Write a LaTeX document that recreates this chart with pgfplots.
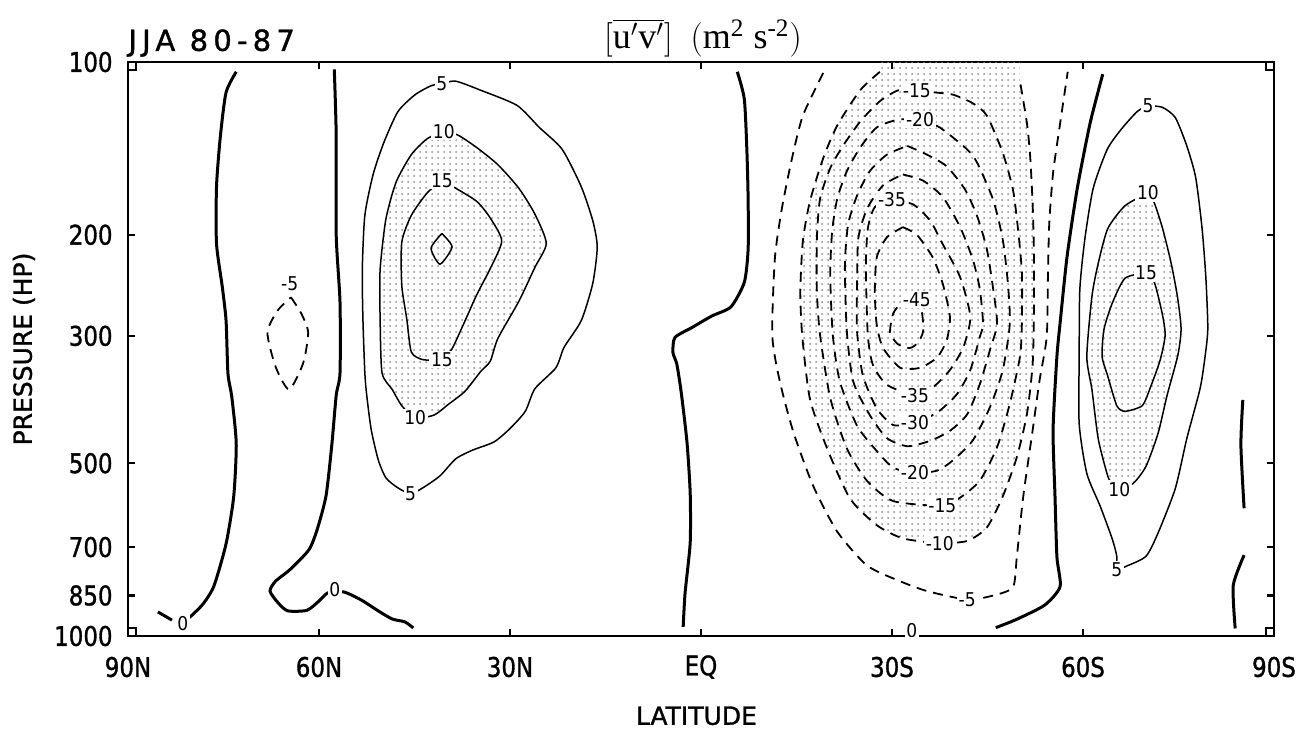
\documentclass[border=0pt]{standalone}
\usepackage{fontspec}
\usepackage{pgfplots}
\pgfplotsset{compat=1.18}
\usetikzlibrary{patterns}
\setmainfont{DejaVu Sans}
\newfontfamily\tickfont{DejaVu Sans}[FakeStretch=0.85, FakeBold=1.2]
\newfontfamily\axlabfont{DejaVu Sans}[FakeBold=1.2]
\newfontfamily\clabfont{DejaVu Sans}[FakeStretch=0.9]
\newfontfamily\jjafont{DejaVu Sans}[LetterSpace=18, FakeBold=1.2]
\newfontfamily\titleserif{Liberation Serif}
\tikzset{lab/.style={fill=white, inner sep=0.8pt, font=\clabfont\fontsize{9.5}{9.5}\selectfont}}
\pgfplotsset{
 pos/.style={black, line width=0.75pt, smooth, tension=0.4, no marks},
 neg/.style={black, line width=0.9pt, dash pattern=on 5pt off 3.5pt, smooth, tension=0.4, no marks},
 zer/.style={black, line width=1.5pt, smooth, tension=0.4, no marks},
 stip/.style={draw=none, pattern=dots, pattern color=black!45, smooth, tension=0.4, no marks, forget plot},
}
\begin{document}
\begin{tikzpicture}
\begin{axis}[
  scale only axis, width=573pt, height=287pt,
  xmin=0, xmax=180, ymode=log, ymin=100, ymax=1000, y dir=reverse,
  xtick={0,30,60,90,120,150,180},
  xticklabels={90N,60N,30N,EQ,30S,60S,90S},
  ytick={100,200,300,500,700,850,1000},
  yticklabels={100,200,300,500,700,850,1000},
  tick align=inside,
  major tick length=3.5pt,
  every tick/.style={black, line width=1.1pt},
  axis line style={line width=1.4pt},
  xticklabel style={font=\tickfont\fontsize{13.5}{13.5}\selectfont, anchor=center, inner sep=0pt, yshift=-15.5pt},
  yticklabel style={font=\tickfont\fontsize{13.5}{13.5}\selectfont, anchor=east, inner sep=0pt, xshift=-7.5pt},
  xlabel={LATITUDE},
  xlabel style={at={(axis description cs:0.496,-0.139)}, anchor=center, inner sep=0pt, font=\axlabfont\fontsize{12.5}{12.5}\selectfont},
  ylabel={PRESSURE (HP)},
  ylabel style={at={(axis description cs:-0.0908,0.5)}, anchor=center, inner sep=0pt, font=\axlabfont\fontsize{12.5}{12.5}\selectfont},
]
% ---- stipple fills ----
\addplot[stip] coordinates {(49.6,132) (47.0,136) (44.5,145) (42.1,162) (40.5,188) (39.6,230) (39.6,281) (39.9,348) (41.5,372) (43.0,397) (45.1,417) (48.1,412) (50.3,395) (52.9,375) (55.4,346) (56.9,332) (58.1,303) (61.4,261) (63.9,228) (65.7,207) (63.9,184) (61.4,166) (58.1,151) (54.8,141) (51.8,134) (49.6,132)};
\addplot[stip] coordinates {(118.1,100) (118.1,104) (115.0,112) (111.4,129) (109.2,147) (107.1,175) (106.0,205) (105.6,251) (105.9,300) (107.1,386) (109.8,471) (113.4,576) (117.6,641) (121.7,676) (127.5,689) (131.8,683) (134.9,647) (137.4,571) (139.6,488) (141.2,410) (142.1,335) (142.3,267) (142.3,218) (142.1,178) (141.7,146) (141.2,128) (140.1,108) (140.1,100)};
\addplot[stip] coordinates {(160.2,169) (156.6,178) (153.9,195) (152.4,224) (151.4,256) (150.6,326) (151.4,372) (152.4,454) (153.9,527) (154.6,542) (155.7,555) (157.9,542) (159.9,506) (161.8,443) (163.2,381) (164.9,324) (165.4,291) (164.8,255) (163.8,223) (162.5,195) (161.2,176) (160.2,169)};
% ---- zero lines ----
\addplot[zer] coordinates {(17.0,104) (15.4,113) (14.5,135) (13.9,165) (13.9,207) (14.8,246) (15.4,282) (15.7,349) (16.3,383) (17.0,462) (16.6,572) (15.4,691) (13.5,818) (11.8,879) (9.9,923) (8.9,940)};
\addplot[zer] coordinates {(4.7,908) (6.9,938)};
\addplot[zer] coordinates {(32.4,103) (32.7,134) (32.7,200) (33.3,262) (33.3,348) (32.7,381) (32.0,466) (31.1,570) (29.7,653) (28.4,708) (25.4,767) (23.2,802) (22.3,835) (23.6,876) (25.1,904) (28.1,902) (30.0,869) (31.4,841) (33.9,838) (36.6,865) (39.3,904) (41.5,934) (43.5,945) (44.8,968)};
\addplot[zer] coordinates {(95.7,104) (96.8,116) (97.2,142) (97.4,173) (97.4,212) (96.8,242) (94.7,267) (91.7,277) (88.6,290) (85.9,302) (85.6,321) (86.2,336) (86.9,377) (87.8,460) (88.3,563) (88.3,688) (87.5,841) (87.2,964)};
\addplot[zer] coordinates {(153.1,105) (151.1,128) (149.1,166) (147.5,218) (146.4,285) (145.9,326) (145.3,437) (145.6,571) (145.9,728) (146.4,820) (144.0,883) (139.6,935) (136.3,967)};
\addplot[zer] coordinates {(175.1,388) (174.8,465) (175.3,599)};
\addplot[zer] coordinates {(175.3,723) (173.6,816) (173.9,970)};
% ---- positive contours, left ----
\addplot[pos] coordinates {(49.3,109) (47.6,110) (45.1,114) (42.4,122) (40.2,138) (38.5,157) (37.2,185) (36.8,230) (36.9,281) (37.2,348) (37.5,381) (38.2,437) (39.3,493) (40.5,530) (42.4,552) (44.4,565) (46.3,552) (49.0,526) (51.5,491) (54.2,474) (57.5,459) (60.0,435) (62.4,406) (63.9,371) (67.2,341) (68.5,314) (71.2,282) (73.0,243) (73.7,210) (73.0,189) (71.2,165) (68.2,142) (64.6,130) (61.1,119) (55.4,112) (51.5,108) (49.3,109)};
\addplot[pos] coordinates {(49.6,132) (47.0,136) (44.5,145) (42.1,162) (40.5,188) (39.6,230) (39.6,281) (39.9,348) (41.5,372) (43.0,397) (45.1,417) (48.1,412) (50.3,395) (52.9,375) (55.4,346) (56.9,332) (58.1,303) (61.4,261) (63.9,228) (65.7,207) (63.9,184) (61.4,166) (58.1,151) (54.8,141) (51.8,134) (49.6,132)};
\addplot[pos] coordinates {(49.3,161) (47.0,169) (44.5,185) (43.0,206) (43.0,245) (43.8,281) (44.5,320) (46.3,330) (49.3,330) (49.9,323) (50.9,316) (52.9,283) (54.8,254) (56.9,229) (58.7,205) (56.9,187) (54.8,175) (51.5,166) (49.3,161)};
\addplot[pos] coordinates {(49.3,199) (50.9,210) (49.0,225) (47.6,211) (49.3,199)};
% ---- positive contours, right ----
\addplot[pos] coordinates {(160.2,119) (158.5,122) (156.0,131) (153.8,142) (151.6,166) (150.3,203) (149.5,249) (149.4,326) (149.4,427) (150.6,521) (152.7,594) (154.6,678) (155.3,726) (155.3,765) (156.9,755) (159.9,726) (161.8,661) (164.5,553) (166.3,453) (168.4,370) (169.2,324) (169.6,291) (169.3,238) (168.7,195) (167.7,159) (166.3,140) (164.5,125) (162.5,120) (160.2,119)};
\addplot[pos] coordinates {(160.2,169) (156.6,178) (153.9,195) (152.4,224) (151.4,256) (150.6,326) (151.4,372) (152.4,454) (153.9,527) (154.6,542) (155.7,555) (157.9,542) (159.9,506) (161.8,443) (163.2,381) (164.9,324) (165.4,291) (164.8,255) (163.8,223) (162.5,195) (161.2,176) (160.2,169)};
\addplot[pos] coordinates {(159.9,233) (156.6,238) (154.6,263) (153.3,292) (153.0,326) (153.9,353) (155.3,397) (156.6,406) (159.3,397) (160.5,371) (162.1,331) (162.9,299) (162.4,273) (161.2,242) (159.9,233)};
% ---- negative contours ----
\addplot[neg] coordinates {(25.6,257) (27.2,274) (28.3,296) (27.5,335) (25.3,372) (23.2,340) (21.9,296) (23.5,271) (25.6,257)};
\addplot[neg] coordinates {(109.2,104.5) (106.0,124) (104.3,147) (102.7,180) (101.6,220) (101.2,300) (102.4,361) (104.5,441) (107.6,547) (111.4,658) (116.1,754) (121.3,803) (125.5,835) (131.8,864) (135.9,850) (139.0,822) (139.6,729) (140.6,573) (142.1,437) (143.2,357) (144.3,301) (144.5,233) (144.7,191) (145.3,156) (146.4,128) (147.6,104)};
\addplot[neg] coordinates {(118.1,104) (115.0,112) (111.4,129) (109.2,147) (107.1,175) (106.0,205) (105.6,251) (105.9,300) (107.1,386) (109.8,471) (113.4,576) (117.6,641) (121.7,676) (127.5,689) (131.8,683) (134.9,647) (137.4,571) (139.6,488) (141.2,410) (142.1,335) (142.3,267) (142.3,218) (142.1,178) (141.7,146) (141.2,128) (140.1,108)};
\addplot[neg] coordinates {(123.9,112) (126.8,113) (129.6,114) (132.7,118) (134.9,124) (137.4,144) (139.0,167) (139.8,196) (140.4,233) (140.4,285) (140.1,326) (138.5,394) (136.5,469) (133.8,536) (130.7,574) (127.9,593) (120.2,582) (116.1,537) (112.9,471) (110.3,385) (108.7,299) (108.2,251) (108.2,203) (108.7,173) (110.3,153) (112.3,140) (115.0,127) (118.1,117) (121.0,112) (123.9,112)};
\addplot[neg] coordinates {(124.4,126) (127.5,130) (131.8,142) (133.4,150) (135.9,174) (137.4,204) (138.2,243) (138.5,286) (137.4,344) (135.4,399) (132.7,456) (129.6,494) (127.1,515) (123.6,520) (120.2,509) (117.6,476) (114.5,430) (111.8,360) (110.7,299) (110.3,235) (110.6,197) (111.4,173) (112.9,155) (115.0,141) (117.6,130) (121.0,126) (124.4,126)};
\addplot[neg] coordinates {(122.4,140) (125.5,145) (128.6,152) (131.5,167) (133.4,186) (134.9,212) (135.9,249) (136.5,286) (135.4,317) (133.8,364) (131.8,411) (129.1,439) (126.0,457) (122.4,467) (119.2,452) (116.5,412) (113.9,360) (112.9,294) (112.6,226) (113.1,192) (114.5,171) (116.5,155) (119.2,145) (122.4,140)};
\addplot[neg] coordinates {(121.7,157) (124.9,161) (128.0,172) (130.7,194) (132.7,221) (133.8,249) (134.3,286) (133.8,301) (132.3,344) (130.2,379) (127.1,408) (123.6,425) (120.2,429) (117.6,401) (115.4,351) (114.5,294) (114.5,250) (114.7,203) (116.1,180) (118.6,164) (121.7,157)};
\addplot[neg] coordinates {(120.0,174) (123.3,177) (126.0,189) (128.0,208) (130.7,237) (132.3,278) (131.2,314) (129.1,344) (126.4,369) (123.6,381) (119.2,365) (117.0,337) (116.2,299) (115.9,228) (116.2,195) (117.3,179) (120.0,174)};
\addplot[neg] coordinates {(121.7,194) (123.9,200) (126.4,219) (128.0,244) (129.1,278) (128.6,305) (127.1,327) (124.4,341) (121.3,341) (118.6,315) (117.6,287) (117.3,251) (117.6,219) (119.2,202) (121.7,194)};
\addplot[neg] coordinates {(123.1,259) (124.6,270) (124.9,294) (124.1,308) (122.8,315) (120.9,310) (119.7,296) (120.2,274) (121.6,262) (123.1,259)};
% ---- contour labels ----
\node[lab] at (axis cs:8.6,953) {0};
\node[lab] at (axis cs:32.5,830) {0};
\node[lab] at (axis cs:25.4,243) {-5};
\node[lab] at (axis cs:49.3,109) {5};
\node[lab] at (axis cs:44.4,565) {5};
\node[lab] at (axis cs:49.6,132) {10};
\node[lab] at (axis cs:45.1,417) {10};
\node[lab] at (axis cs:49.3,161) {15};
\node[lab] at (axis cs:49.3,330) {15};
\node[lab] at (axis cs:160.2,119) {5};
\node[lab] at (axis cs:155.3,765) {5};
\node[lab] at (axis cs:160.2,169) {10};
\node[lab] at (axis cs:155.7,555) {10};
\node[lab] at (axis cs:159.9,233) {15};
\node[lab] at (axis cs:123.9,112) {-15};
\node[lab] at (axis cs:124.4,126) {-20};
\node[lab] at (axis cs:120.0,174) {-35};
\node[lab] at (axis cs:123.9,259) {-45};
\node[lab] at (axis cs:123.6,381) {-35};
\node[lab] at (axis cs:123.6,425) {-30};
\node[lab] at (axis cs:123.6,520) {-20};
\node[lab] at (axis cs:127.9,593) {-15};
\node[lab] at (axis cs:127.5,689) {-10};
\node[lab] at (axis cs:131.8,864) {-5};
\node[lab] at (axis cs:123.1,977) {0};
\end{axis}
% corner marks
\draw[line width=0.9pt] (current axis.north west) rectangle ++(4pt,-4pt);
\draw[line width=0.9pt] (current axis.south west) rectangle ++(4pt,4pt);
\draw[line width=0.9pt] (current axis.south east) rectangle ++(-4pt,4pt);
\draw[line width=0.9pt] (current axis.north east) rectangle ++(-4pt,-4pt);
\node[font=\jjafont\fontsize{14.5}{14.5}\selectfont, anchor=west, inner sep=0pt] at ([yshift=9.5pt]current axis.north west) {JJA 80-87};
\node[font=\titleserif\fontsize{18}{18}\selectfont, inner sep=0pt] at ([shift={(1pt,12pt)}]current axis.north) {$\Bigl[$$\overline{\hbox{u$'$v$'$}}$$\Bigr]$\enspace$\Bigl($m\textsuperscript{2} s\textsuperscript{-2}$\Bigr)$};
\pgfresetboundingbox
\path ([shift={(-64pt,-49pt)}]current axis.south west) rectangle ([shift={(11.5pt,31pt)}]current axis.north east);
\end{tikzpicture}
\end{document}
